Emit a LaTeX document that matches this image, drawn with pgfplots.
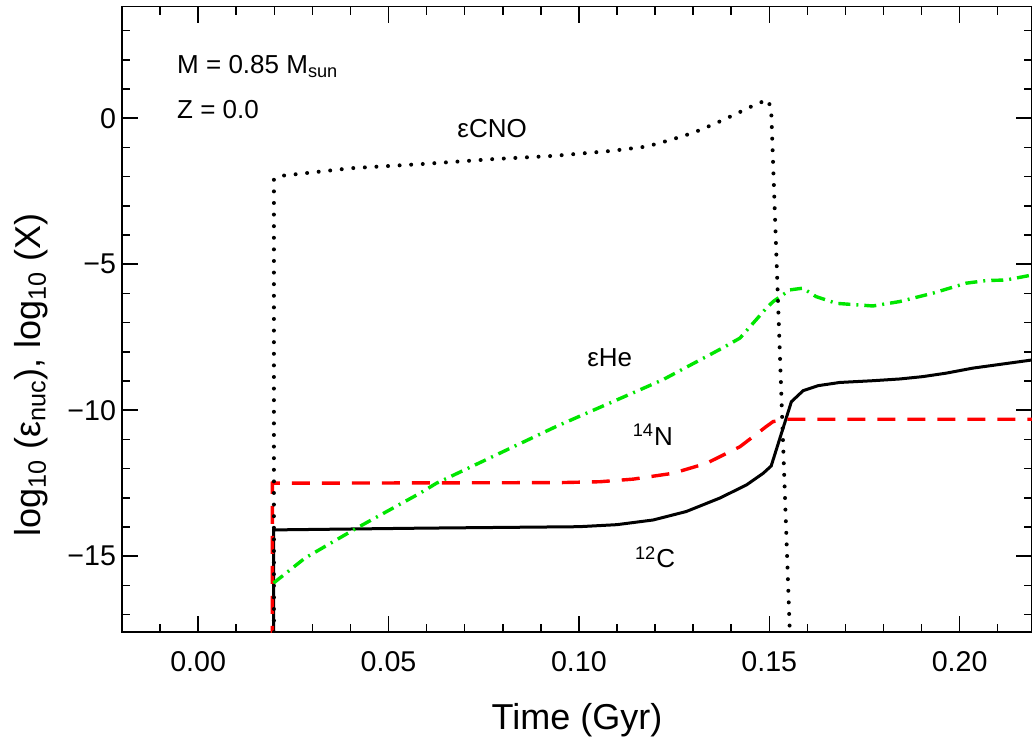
\documentclass[border=0pt]{standalone}
\usepackage{fontspec}
\setmainfont{Liberation Sans}
\usepackage{pgfplots}
\pgfplotsset{compat=1.18}
\begin{document}
\begin{tikzpicture}
\begin{axis}[
  name=ax,
  scale only axis,
  width=455pt, height=312.7pt,
  xmin=-0.02, xmax=0.219,
  ymin=-17.6, ymax=3.82,
  axis line style={line width=0.75pt},
  tick style={line width=0.75pt, black},
  tick align=inside,
  major tick length=8pt,
  minor tick length=4pt,
  xtick={0,0.05,0.1,0.15,0.2},
  xticklabels={0.00,0.05,0.10,0.15,0.20},
  minor xtick={-0.01,0.01,0.02,0.03,0.04,0.06,0.07,0.08,0.09,0.11,0.12,0.13,0.14,0.16,0.17,0.18,0.19,0.21},
  ytick={-15,-10,-5,0},
  yticklabels={−15,−10,−5,0},
  minor ytick={-17,-16,-14,-13,-12,-11,-9,-8,-7,-6,-4,-3,-2,-1,1,2,3},
  ticklabel style={font=\fontsize{14.3}{16}\selectfont},
  xticklabel style={yshift=-6pt},
  yticklabel style={xshift=0.5pt},
  xlabel={Time (Gyr)},
  ylabel={log\textsubscript{10} (ε\textsubscript{nuc}), log\textsubscript{10} (X)},
  label style={font=\fontsize{18}{20}\selectfont},
  xlabel style={at={(axis description cs:0.5,-0.141)}, anchor=center},
  ylabel style={at={(axis description cs:-0.1,0.411)}, anchor=center, rotate=0},
  clip=true,
]
% 12C
\addplot[black, line width=1.5pt] coordinates {
(0.0198,-18) (0.0198,-14.1) (0.0587,-14.04) (0.1,-13.99) (0.11,-13.92) (0.1195,-13.76) (0.1282,-13.47) (0.137,-13.01) (0.144,-12.56) (0.1484,-12.16) (0.1505,-11.91) (0.1558,-9.71) (0.1589,-9.33) (0.1628,-9.16) (0.1685,-9.05) (0.1772,-8.99) (0.1843,-8.93) (0.1903,-8.85) (0.1965,-8.73) (0.2034,-8.56) (0.219,-8.28)
};
% 14N
\addplot[red, line width=1.7pt, dash pattern=on 9pt off 6pt] coordinates {
(0.0195,-18) (0.0195,-12.5) (0.095,-12.48) (0.1055,-12.45) (0.1143,-12.36) (0.1247,-12.16) (0.1335,-11.82) (0.1423,-11.25) (0.1492,-10.56) (0.151,-10.39) (0.1545,-10.31) (0.219,-10.31)
};
% eps He
\addplot[color={rgb,255:red,0;green,230;blue,0}, line width=1.7pt, dash pattern=on 6pt off 3pt on 1pt off 3pt] coordinates {
(0.0198,-15.92) (0.028,-15.07) (0.0416,-14.04) (0.0583,-12.84) (0.0626,-12.5) (0.094,-10.56) (0.122,-8.96) (0.138,-7.85) (0.1423,-7.53) (0.1492,-6.51) (0.151,-6.28) (0.1554,-5.88) (0.1588,-5.82) (0.1623,-6.11) (0.1676,-6.34) (0.1772,-6.43) (0.1842,-6.28) (0.193,-5.99) (0.2017,-5.65) (0.207,-5.56) (0.2122,-5.54) (0.219,-5.37)
};
% eps CNO
\addplot[black, line width=2pt, line cap=round, dash pattern=on 0pt off 5.8pt] coordinates {
(0.0199,-18) (0.0199,-2.08) (0.022,-1.97) (0.0403,-1.71) (0.0587,-1.57) (0.0775,-1.40) (0.0933,-1.29) (0.1085,-1.12) (0.1178,-0.97) (0.1239,-0.75) (0.130,-0.50) (0.1356,-0.195) (0.1413,0.15) (0.147,0.51) (0.1497,0.63) (0.1505,0.28) (0.1555,-18)
};
\node[anchor=base west, font=\fontsize{13}{15}\selectfont] at (axis cs:-0.00735,1.517) {M = 0.85 M\textsubscript{sun}};
\node[anchor=base west, font=\fontsize{13}{15}\selectfont] at (axis cs:-0.00735,-0.024) {Z = 0.0};
\node[anchor=base, font=\fontsize{13}{15}\selectfont] at (axis cs:0.0772,-0.65) {εCNO};
\node[anchor=base, font=\fontsize{13}{15}\selectfont] at (axis cs:0.1081,-8.52) {εHe};
\node[anchor=base, font=\fontsize{13}{15}\selectfont] at (axis cs:0.1194,-11.2) {\textsuperscript{14}N};
\node[anchor=base, font=\fontsize{13}{15}\selectfont] at (axis cs:0.12,-15.4) {\textsuperscript{12}C};
\end{axis}
\pgfresetboundingbox
\path[use as bounding box] ([xshift=-61pt,yshift=-61.5pt]ax.south west) rectangle ([yshift=3.35pt]ax.north east);
\end{tikzpicture}
\end{document}
